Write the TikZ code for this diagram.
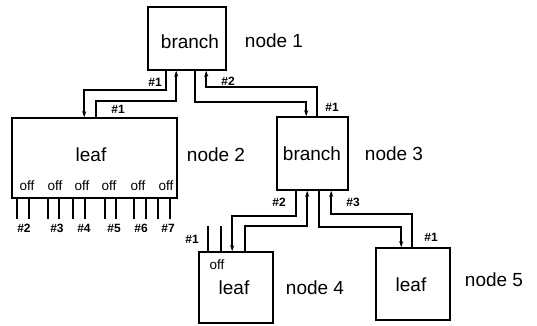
\documentclass[tikz,border=0pt]{standalone}
\usepackage{fontspec}
\setmainfont{Liberation Sans}
\usetikzlibrary{arrows.meta}
\tikzset{
  box/.style={draw, line width=1.6pt, inner sep=0pt, font=\fontsize{19}{22}\selectfont},
  big/.style={inner sep=0pt, font=\fontsize{19}{22}\selectfont},
  num/.style={inner sep=0pt, font=\fontsize{12}{14}\selectfont\bfseries},
  offl/.style={inner sep=0pt, font=\fontsize{13.5}{15}\selectfont},
  wire/.style={line width=1.6pt, -{Stealth[length=6pt,width=4pt]}},
  pin/.style={line width=1.6pt},
  pinb/.style={line width=2.4pt}
}
\begin{document}
\begin{tikzpicture}[x=1pt,y=-1pt]
\useasboundingbox (0,0) rectangle (537,325);
% boxes
\node[box, minimum width=78pt, minimum height=63pt] (n1) at (187,38.5) {};
\node[big] (t1) at (190,42) {branch};
\node[box, minimum width=165pt, minimum height=80pt] (n2) at (94.5,158) {};
\node[big] (t2) at (91,155) {leaf};
\node[box, minimum width=71pt, minimum height=73pt] (n3) at (312.5,153.5) {};
\node[big] (t3) at (312,154) {branch};
\node[box, minimum width=74pt, minimum height=71pt] (n4) at (236,287.5) {};
\node[big] (t4) at (234,288) {leaf};
\node[box, minimum width=74pt, minimum height=72pt] (n5) at (413,284) {};
\node[big] (t5) at (411,285) {leaf};
% node labels
\node[big] (l1) at (274,41) {node 1};
\node[big] (l2) at (216,155) {node 2};
\node[big] (l3) at (394,154) {node 3};
\node[big] (l4) at (315,288) {node 4};
\node[big] (l5) at (494,280) {node 5};
% connectors node1 <-> node2/node3
\draw[wire] ([xshift=19pt]n1.south west) -- ++(0,19) -| ([xshift=73pt]n2.north west);
\draw[wire] ([xshift=85pt]n2.north west) -- ++(0,-16) -| ([xshift=29pt]n1.south west);
\draw[wire] ([xshift=48pt]n1.south west) -- ++(0,31) -| ([xshift=30pt]n3.north west);
\draw[wire] ([xshift=41pt]n3.north west) -- ++(0,-29) -| ([xshift=59pt]n1.south west);
% connectors node3 <-> node4/node5
\draw[wire] ([xshift=20pt]n3.south west) -- ++(0,25) -| ([xshift=34pt]n4.north west);
\draw[wire] ([xshift=47pt]n4.north west) -- ++(0,-25) -| ([xshift=31pt]n3.south west);
\draw[wire] ([xshift=43pt]n3.south west) -- ++(0,36) -| ([xshift=26pt]n5.north west);
\draw[wire] ([xshift=37pt]n5.north west) -- ++(0,-33) -| ([xshift=55pt]n3.south west);
% port labels
\node[num] (p1) at (155,82) {\#1};
\node[num] (p2) at (118,109) {\#1};
\node[num] (p3) at (228,81.5) {\#2};
\node[num] (p4) at (332,107) {\#1};
\node[num] (p5) at (279,202) {\#2};
\node[num] (p6) at (353,202) {\#3};
\node[num] (p7) at (431,237) {\#1};
% off labels node 2
\foreach \x [count=\i] in {27,55,82,109,138,166} {
  \node[offl] (off\i) at (\x,186) {off};
}
% pins node 2
\foreach \a/\b/\lx/\n [count=\i] in {18/30/24/2, 49/60/57/3, 74/86/84/4, 106/117/114/5, 135/147/141/6, 159/171/168/7} {
  \draw[pinb] ([xshift=\a pt-12pt]n2.south west) -- ++(0,20);
  \draw[pin] ([xshift=\b pt-12pt]n2.south west) -- ++(0,20);
  \node[num] (q\i) at (\lx,228) {\#\n};
}
% node 4 pins and off
\node[offl] (off7) at (217,265) {off};
\draw[pin] ([xshift=10pt]n4.north west) -- ++(0,-25);
\draw[pin] ([xshift=23pt]n4.north west) -- ++(0,-25);
\node[num] (p8) at (192,239) {\#1};
\end{tikzpicture}
\end{document}
